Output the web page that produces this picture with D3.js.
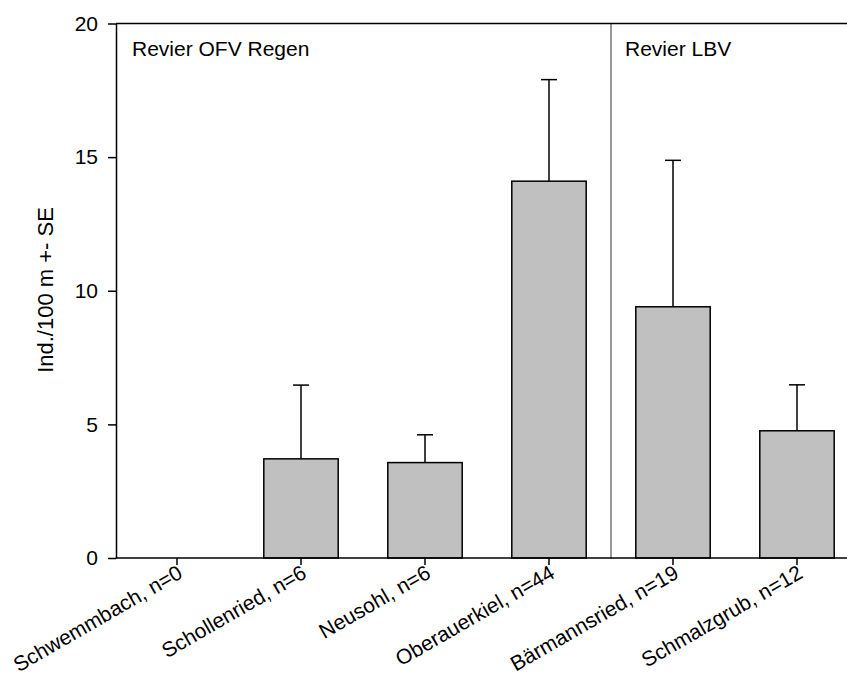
<!DOCTYPE html>
<html>
<head>
<meta charset="utf-8">
<script src="https://cdn.jsdelivr.net/npm/d3@7"></script>
<style>
  html, body { margin: 0; padding: 0; background: #fff; }
  svg { display: block; font-family: "Liberation Sans", Arial, sans-serif; }
</style>
</head>
<body>
<svg id="chart" width="847" height="680"></svg>
<script>
// Catch data per site (individuals per 100 m) with standard error
const sites = ["Schwemmbach, n=0", "Schollenried, n=6", "Neusohl, n=6",
               "Oberauerkiel, n=44", "Bärmannsried, n=19", "Schmalzgrub, n=12"];
const means = [0, 3.71, 3.57, 14.1, 9.4, 4.76];
const errors = [0, 2.76, 1.04, 3.8, 5.48, 1.72];
const yTicks = [0, 5, 10, 15, 20];
const districts = ["Revier OFV Regen", "Revier LBV"];

const svg = d3.select("#chart");
const plotLeft = 116, plotBottom = 558, plotTop = 23.5;
const fontSize = 21;

const x = d3.scaleBand().domain(sites).range([115, 859])
  .paddingInner(0.4).paddingOuter(0.2);
const y = d3.scaleLinear().domain([0, 20]).range([plotBottom, plotTop]);

// bars
svg.append("g").selectAll("rect").data(sites).join("rect")
  .attr("x", d => x(d))
  .attr("y", (d, i) => y(means[i]))
  .attr("width", x.bandwidth())
  .attr("height", (d, i) => y(0) - y(means[i]))
  .attr("fill", "#c0c0c0")
  .attr("stroke", "#000")
  .attr("stroke-width", 1.5)
  .style("display", (d, i) => means[i] > 0 ? null : "none");

// error bars (upper only)
const eb = svg.append("g").attr("stroke", "#000").attr("stroke-width", 1.5);
sites.forEach((s, i) => {
  if (errors[i] <= 0) return;
  const cx = x(s) + x.bandwidth() / 2;
  eb.append("line").attr("x1", cx).attr("x2", cx)
    .attr("y1", y(means[i])).attr("y2", y(means[i] + errors[i]));
  eb.append("line").attr("x1", cx - 8).attr("x2", cx + 8)
    .attr("y1", y(means[i] + errors[i])).attr("y2", y(means[i] + errors[i]));
});

// divider between the two districts
const divX = (x(sites[3]) + x.bandwidth() + x(sites[4])) / 2;
svg.append("line").attr("x1", divX).attr("x2", divX)
  .attr("y1", y(20)).attr("y2", y(0) + 1)
  .attr("stroke", "#555").attr("stroke-width", 1.2);

// top frame line
svg.append("line").attr("x1", plotLeft).attr("x2", 847)
  .attr("y1", y(20)).attr("y2", y(20))
  .attr("stroke", "#000").attr("stroke-width", 1.5);

// y axis
const yAxis = svg.append("g").attr("transform", `translate(${plotLeft},0)`)
  .call(d3.axisLeft(y).tickValues(yTicks).tickSize(8).tickPadding(10).tickSizeOuter(0));
yAxis.select(".domain").attr("stroke-width", 1.5);
yAxis.selectAll(".tick line").attr("stroke-width", 1.5);
yAxis.selectAll("text").attr("font-size", fontSize).attr("fill", "#000")
  .attr("font-family", "Liberation Sans, Arial, sans-serif");

// x axis
const xAxis = svg.append("g").attr("transform", `translate(0,${plotBottom})`)
  .call(d3.axisBottom(x).tickSize(7).tickSizeOuter(0));
xAxis.select(".domain").attr("stroke-width", 1.5).attr("d", `M${plotLeft},0H860`);
xAxis.selectAll(".tick line").attr("stroke-width", 1.5);
xAxis.selectAll("text")
  .attr("font-size", fontSize).attr("fill", "#000")
  .attr("font-family", "Liberation Sans, Arial, sans-serif")
  .attr("text-anchor", "end")
  .attr("dy", null)
  .attr("y", 0)
  .attr("transform", "translate(7,19) rotate(-30)");

// district labels
svg.append("text").attr("x", 132).attr("y", 56).attr("font-size", fontSize).text(districts[0]);
svg.append("text").attr("x", divX + 14).attr("y", 56).attr("font-size", fontSize).text(districts[1]);

// y axis title
svg.append("text")
  .attr("transform", `translate(53,290) rotate(-90)`)
  .attr("text-anchor", "middle")
  .attr("font-size", 22)
  .text("Ind./100 m +- SE");
</script>
</body>
</html>
